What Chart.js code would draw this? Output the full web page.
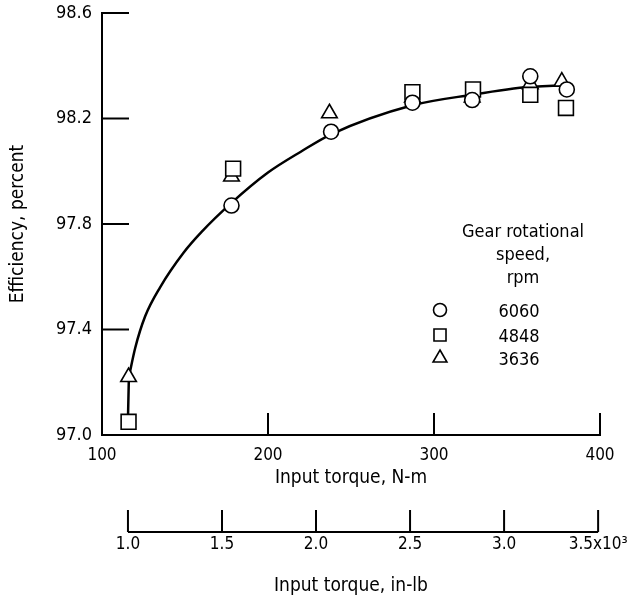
<!DOCTYPE html>
<html>
<head>
<meta charset="utf-8">
<script src="https://cdn.jsdelivr.net/npm/chart.js@4.4.1/dist/chart.umd.min.js"></script>
<style>
  html, body { margin: 0; padding: 0; background: #fff; }
  #wrap { width: 634px; height: 604px; position: relative; }
</style>
</head>
<body>
<div id="wrap"><canvas id="effChart"></canvas></div>
<script>
/* DATA */
const speedLabels = ['6060', '4848', '3636'];

const torqueCircle = [178, 238, 287, 323, 358, 380];
const effCircle = [97.87, 98.15, 98.26, 98.27, 98.36, 98.31];

const torqueSquare = [116, 179, 287, 323.5, 358, 379.5];
const effSquare = [97.05, 98.01, 98.30, 98.31, 98.29, 98.24];

const torqueTriangle = [116, 178, 237, 287, 323, 358, 377];
const effTriangle = [97.22, 97.98, 98.22, 98.28, 98.28, 98.33, 98.34];

// faired curve through the data (straight lead-in, then smooth)
const leadTorque = [115.6, 116.2];
const leadEff = [97.05, 97.22];
const curveTorque = [116.2, 120, 126, 135, 149, 160, 178, 200, 220, 238, 287, 323, 358, 374];
const curveEff = [97.22, 97.33, 97.45, 97.56, 97.69, 97.77, 97.88, 97.995, 98.075, 98.14, 98.25, 98.29, 98.32, 98.325];

const yTicks = [97.0, 97.4, 97.8, 98.2, 98.6];
const xTicks = [100, 200, 300, 400];
const inLbTicks = [1000, 1500, 2000, 2500, 3000, 3500];

const legendTitle = ['Gear rotational', 'speed,', 'rpm'];

/* HELPERS */
const FONT = "'DejaVu Sans Condensed', 'DejaVu Sans', sans-serif";
Chart.defaults.font.family = FONT;
Chart.defaults.font.size = 17;
Chart.defaults.color = '#000';

function pairs(xs, ys) {
    return xs.map((x, i) => ({ x: x, y: ys[i] }));
}

function useTicks(values) {
    return function (scale) {
        scale.ticks = values.map(v => ({ value: v }));
    };
}

function fixHeight(h) {
    return function (scale) {
        scale.height = h;
        scale.paddingLeft = 0;
        scale.paddingRight = 0;
    };
}

function strokeLine(ctx, x1, y1, x2, y2) {
    ctx.beginPath();
    ctx.moveTo(x1, y1);
    ctx.lineTo(x2, y2);
    ctx.stroke();
}

// in-lb labels in thousands, multiplier on the last one
function inLbLabel(v) {
    const txt = (v / 1000).toFixed(1);
    return v === inLbTicks[inLbTicks.length - 1] ? txt + 'x10\u00B3' : txt;
}

/* INWARD TICKS + SECOND AXIS LINE */
const axisMarks = {
    id: 'axisMarks',
    beforeDatasetsDraw(chart) {
        const { ctx, chartArea, scales } = chart;
        ctx.save();
        ctx.strokeStyle = '#000';
        ctx.lineWidth = 2;

        scales.y.ticks.forEach(t => {
            if (t.value === yTicks[0]) return;
            const py = scales.y.getPixelForValue(t.value);
            strokeLine(ctx, chartArea.left, py, chartArea.left + 27, py);
        });

        scales.x.ticks.forEach(t => {
            if (t.value === xTicks[0]) return;
            const px = scales.x.getPixelForValue(t.value);
            strokeLine(ctx, px, chartArea.bottom, px, chartArea.bottom - 22);
        });

        // in-lb scale: line with upward ticks
        const x2 = scales.x2;
        const base = x2.top + 40;
        const first = x2.getPixelForValue(inLbTicks[0]);
        const last = x2.getPixelForValue(inLbTicks[inLbTicks.length - 1]);
        strokeLine(ctx, first, base, last, base);
        x2.ticks.forEach(t => {
            const px = x2.getPixelForValue(t.value);
            strokeLine(ctx, px, base, px, base - 22);
        });
        ctx.restore();
    }
};

/* LEGEND NOTE */
const legendNote = {
    id: 'legendNote',
    afterDraw(chart) {
        const ctx = chart.ctx;
        ctx.save();
        ctx.fillStyle = '#000';
        ctx.font = '18px ' + FONT;
        ctx.textAlign = 'center';
        ctx.textBaseline = 'alphabetic';
        legendTitle.forEach((line, i) => ctx.fillText(line, 523, 237 + i * 23));

        const styles = [
            { pointStyle: 'circle', radius: 6.5 },
            { pointStyle: 'rect', radius: 8.5 },
            { pointStyle: 'triangle', radius: 8 },
        ];
        const rowBase = [317, 342, 365];
        speedLabels.forEach((lab, i) => {
            ctx.fillStyle = '#000';
            ctx.fillText(lab, 519, rowBase[i]);
            ctx.fillStyle = '#fff';
            ctx.strokeStyle = '#000';
            ctx.lineWidth = 1.6;
            Chart.helpers.drawPoint(ctx, {
                pointStyle: styles[i].pointStyle,
                radius: styles[i].radius,
                borderWidth: 1.6,
                rotation: 0,
            }, 440, rowBase[i] - 7);
        });
        ctx.restore();
    }
};

/* CHART */
function markerSet(label, xs, ys, style, radius) {
    return {
        label: label,
        data: pairs(xs, ys),
        showLine: false,
        pointStyle: style,
        pointRadius: radius,
        pointBackgroundColor: '#fff',
        pointBorderColor: '#000',
        pointBorderWidth: 1.6,
    };
}

function lineSet(label, xs, ys) {
    return {
        label: label,
        data: pairs(xs, ys),
        showLine: true,
        borderColor: '#000',
        borderWidth: 2.5,
        pointRadius: 0,
        cubicInterpolationMode: 'monotone',
    };
}

const ctx = document.getElementById('effChart').getContext('2d');
const effChart = new Chart(ctx, {
    type: 'scatter',
    data: {
        datasets: [
            markerSet(speedLabels[0], torqueCircle, effCircle, 'circle', 7.5),
            markerSet(speedLabels[1], torqueSquare, effSquare, 'rect', 10.5),
            markerSet(speedLabels[2], torqueTriangle, effTriangle, 'triangle', 9),
            lineSet('fair', curveTorque, curveEff),
            lineSet('lead', leadTorque, leadEff),
        ],
    },
    options: {
        responsive: true,
        maintainAspectRatio: false,
        animation: false,
        layout: { padding: { left: 0, top: 13, right: 34, bottom: 4 } },
        plugins: {
            legend: { display: false },
            tooltip: { enabled: false },
        },
        scales: {
            x: {
                type: 'linear',
                position: 'bottom',
                min: 100,
                max: 400,
                afterBuildTicks: useTicks(xTicks),
                afterFit: fixHeight(57),
                grid: { display: false, drawTicks: false },
                border: { display: true, color: '#000', width: 2 },
                ticks: { padding: 10, maxRotation: 0, callback: v => String(v) },
                title: { display: true, text: 'Input torque, N-m', font: { size: 19 }, padding: { top: 0, bottom: 3 } },
            },
            x2: {
                type: 'linear',
                position: 'bottom',
                // in-lb range
                min: 862,
                max: 3510,
                afterBuildTicks: useTicks(inLbTicks),
                afterFit: fixHeight(108),
                grid: { display: false, drawTicks: false },
                border: { display: false },
                ticks: { padding: 42, maxRotation: 0, callback: inLbLabel },
                title: { display: true, text: 'Input torque, in-lb', font: { size: 19 }, padding: { top: 0, bottom: 3 } },
            },
            y: {
                type: 'linear',
                position: 'left',
                min: 97.0,
                max: 98.6,
                afterBuildTicks: useTicks(yTicks),
                afterFit: scale => {
                    scale.width = 102;
                    scale.paddingTop = 0;
                    scale.paddingBottom = 0;
                },
                grid: { display: false, drawTicks: false },
                border: { display: true, color: '#000', width: 2 },
                ticks: { padding: 10, font: { size: 18 }, callback: v => v.toFixed(1) },
                title: { display: true, text: 'Efficiency, percent', font: { size: 19 }, padding: { top: 7, bottom: 0 } },
            },
        },
    },
    plugins: [axisMarks, legendNote],
});
</script>
</body>
</html>
